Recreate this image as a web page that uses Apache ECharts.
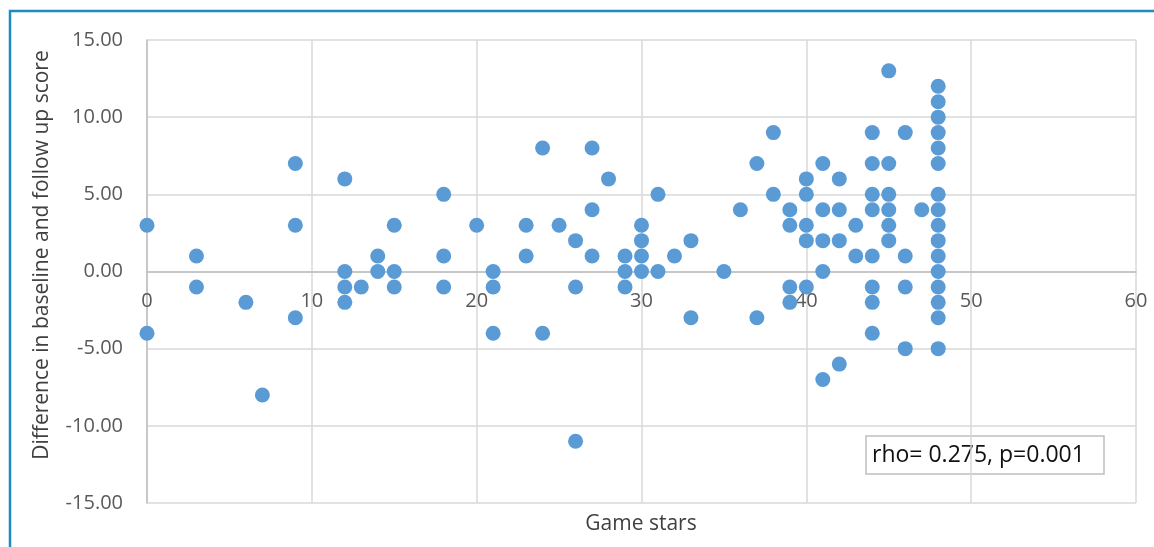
<!DOCTYPE html>
<html>
<head>
<meta charset="utf-8">
<script src="https://cdn.jsdelivr.net/npm/echarts@6/dist/echarts.min.js"></script>
<style>
  html, body { margin: 0; padding: 0; background: #fff; }
  #main { width: 1154px; height: 547px; }
</style>
</head>
<body>
<div id="main"></div>
<script>
// game stars (x) and score difference (y), one entry per participant
var gameStars = [
  0, 0, 3, 3, 6, 7, 9, 9, 9,
  12, 12, 12, 12, 13, 14, 14, 15, 15, 15,
  18, 18, 18, 20, 21, 21, 21, 23, 23, 24, 24, 25,
  26, 26, 26, 27, 27, 27, 28, 29, 29, 29,
  30, 30, 30, 30, 31, 31, 32, 33, 33, 35, 36, 37, 37, 38, 38,
  39, 39, 39, 39, 40, 40, 40, 40, 40,
  41, 41, 41, 41, 41, 42, 42, 42, 42, 43, 43,
  44, 44, 44, 44, 44, 44, 44, 44,
  45, 45, 45, 45, 45, 45, 46, 46, 46, 46, 47,
  48, 48, 48, 48, 48, 48, 48, 48, 48, 48, 48, 48, 48, 48, 48, 48
];
var scoreDiff = [
  3, -4, 1, -1, -2, -8, 7, 3, -3,
  6, 0, -1, -2, -1, 1, 0, 3, 0, -1,
  5, 1, -1, 3, 0, -1, -4, 3, 1, 8, -4, 3,
  2, -1, -11, 8, 4, 1, 6, 1, 0, -1,
  3, 2, 1, 0, 5, 0, 1, 2, -3, 0, 4, 7, -3, 9, 5,
  4, 3, -1, -2, 6, 5, 3, 2, -1,
  7, 4, 2, 0, -7, 6, 4, 2, -6, 3, 1,
  9, 7, 5, 4, 1, -1, -2, -4,
  13, 7, 5, 4, 3, 2, 9, 1, -1, -5, 4,
  12, 11, 10, 9, 8, 7, 5, 4, 3, 2, 1, 0, -1, -2, -3, -5
];
var xAxisTitle = 'Game stars';
var yAxisTitle = 'Difference in baseline and follow up score';
var statsNote = 'rho= 0.275, p=0.001';

var points = gameStars.map(function (x, i) { return [x, scoreDiff[i]]; });

var chart = echarts.init(document.getElementById('main'), null, { renderer: 'canvas' });

// x axis crosses at y = 0: move it up from the bottom edge by half the plot height
var plotTop = 40, plotBottom = 44, chartH = 547;
var zeroShift = -(chartH - plotTop - plotBottom) / 2;

var option = {
  backgroundColor: '#ffffff',
  animation: false,
  textStyle: { fontFamily: 'Open Sans' },
  grid: {
    left: 147,
    right: 18,
    top: plotTop,
    bottom: plotBottom
  },
  xAxis: {
    type: 'value',
    min: 0,
    max: 60,
    interval: 10,
    offset: zeroShift,
    axisLine: {
      onZero: false,
      lineStyle: { color: '#bfbfbf', width: 1.5 }
    },
    axisTick: { show: false },
    axisLabel: {
      color: '#595959',
      fontSize: 20,
      margin: 20
    },
    splitLine: {
      lineStyle: { color: '#d9d9d9', width: 1.5 }
    }
  },
  yAxis: {
    type: 'value',
    min: -15,
    max: 15,
    interval: 5,
    axisLine: {
      show: true,
      onZero: false,
      lineStyle: { color: '#bfbfbf', width: 1.5 }
    },
    axisTick: { show: false },
    axisLabel: {
      color: '#595959',
      fontSize: 20,
      margin: 24,
      formatter: function (v) { return v.toFixed(2); }
    },
    splitLine: {
      lineStyle: { color: '#d9d9d9', width: 1.5 }
    }
  },
  series: [
    {
      type: 'scatter',
      symbol: 'circle',
      symbolSize: 15,
      itemStyle: { color: '#5b9bd5', opacity: 1 },
      data: points
    }
  ],
  graphic: [
    // blue frame round the figure
    {
      type: 'polyline',
      shape: { points: [[10, 547], [10, 11], [1154, 11]] },
      style: { stroke: '#1e8bc3', lineWidth: 2.5, fill: null }
    },
    {
      type: 'text',
      x: 641,
      y: 524,
      style: {
        text: xAxisTitle,
        fill: '#404040',
        font: '21px "Open Sans"',
        align: 'center',
        verticalAlign: 'middle'
      }
    },
    {
      type: 'text',
      x: 42,
      y: 255,
      rotation: Math.PI / 2,
      style: {
        text: yAxisTitle,
        fill: '#404040',
        font: '21px "Open Sans"',
        align: 'center',
        verticalAlign: 'middle'
      }
    },
    {
      type: 'group',
      x: 866,
      y: 436,
      children: [
        {
          type: 'rect',
          shape: { x: 0, y: 0, width: 238, height: 38 },
          style: { fill: '#ffffff', stroke: '#bfbfbf', lineWidth: 1.5 }
        },
        {
          type: 'text',
          x: 6,
          y: 19,
          style: {
            text: statsNote,
            fill: '#111111',
            font: '23px "Open Sans"',
            verticalAlign: 'middle'
          }
        }
      ]
    }
  ]
};

chart.setOption(option);
</script>
</body>
</html>
